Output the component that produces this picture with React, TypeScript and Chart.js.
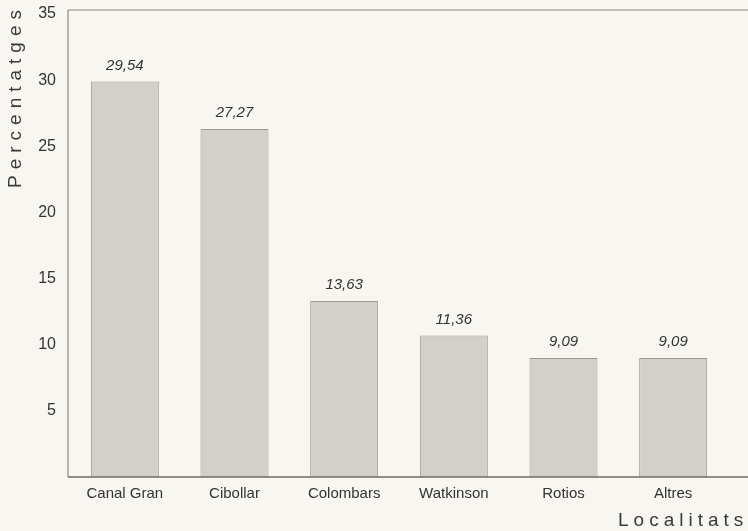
import React, { useEffect, useRef } from "react";
import { Chart, registerables } from "chart.js";

Chart.register(...registerables);

const categories = ["Canal Gran", "Cibollar", "Colombars", "Watkinson", "Rotios", "Altres"];
// bar heights as drawn in the picture
const barValues = [29.9, 26.3, 13.3, 10.7, 9.0, 9.0];
// value labels as printed above the bars
const valueLabels = ["29,54", "27,27", "13,63", "11,36", "9,09", "9,09"];
const yTicks = [5, 10, 15, 20, 25, 30, 35];
const yTitle = "Percentatges";
const xTitle = "Localitats";

const FONT = "'Liberation Sans', Arial, sans-serif";

const framePlugin = {
  id: "frame",
  beforeDraw(chart: any) {
    const { ctx, width, height } = chart;
    ctx.save();
    ctx.fillStyle = "#f8f6f0";
    ctx.fillRect(0, 0, width, height);
    ctx.restore();
  },
  afterDraw(chart: any) {
    const { ctx, chartArea, width } = chart;
    const { left, top, bottom } = chartArea;
    const meta = chart.getDatasetMeta(0);
    ctx.save();
    ctx.strokeStyle = "#8a8884";
    ctx.lineWidth = 1.2;
    ctx.beginPath();
    ctx.moveTo(left - 2, top);
    ctx.lineTo(width, top);
    ctx.moveTo(left - 2, top);
    ctx.lineTo(left - 2, bottom);
    ctx.stroke();
    ctx.strokeStyle = "#6d6b67";
    ctx.lineWidth = 1.6;
    ctx.beginPath();
    ctx.moveTo(left - 2, bottom);
    ctx.lineTo(width, bottom);
    ctx.stroke();

    ctx.fillStyle = "#333";
    ctx.font = `italic 15px ${FONT}`;
    ctx.textAlign = "center";
    ctx.textBaseline = "middle";
    meta.data.forEach((bar: any, i: number) => {
      ctx.fillText(valueLabels[i], bar.x, bar.y - 16);
    });

    ctx.font = `19px ${FONT}`;
    ctx.fillStyle = "#3a3a3a";
    ctx.textAlign = "left";
    ctx.textBaseline = "middle";
    (ctx as any).letterSpacing = "5px";
    ctx.fillText(xTitle, 618, 521);

    ctx.save();
    (ctx as any).letterSpacing = "6px";
    ctx.translate(16, 188);
    ctx.rotate(-Math.PI / 2);
    ctx.fillText(yTitle, 0, 0);
    ctx.restore();
    ctx.restore();
  },
};

export default function App() {
  const ref = useRef<HTMLCanvasElement | null>(null);
  useEffect(() => {
    if (!ref.current) return;
    const chart = new Chart(ref.current, {
      type: "bar",
      data: {
        labels: categories,
        datasets: [
          {
            data: barValues,
            backgroundColor: "#d3d0ca",
            borderColor: "#9c9994",
            borderWidth: 1,
            barPercentage: 0.62,
            categoryPercentage: 1,
          },
        ],
      },
      options: {
        animation: false,
        responsive: false,
        maintainAspectRatio: false,
        layout: { padding: { top: 10, right: 20, left: 0, bottom: 0 } },
        plugins: { legend: { display: false }, tooltip: { enabled: false } },
        scales: {
          x: {
            grid: { display: false },
            border: { display: false },
            ticks: { color: "#333", font: { family: FONT, size: 15 }, padding: 0 },
            afterFit: (s: any) => {
              s.height = 54;
              s.paddingLeft = 0;
              s.paddingRight = 0;
            },
          },
          y: {
            min: 0,
            max: 35.3,
            grid: { display: false },
            border: { display: false },
            afterBuildTicks: (s: any) => {
              s.ticks = yTicks.map((v) => ({ value: v }));
            },
            ticks: { color: "#333", font: { family: FONT, size: 16 }, padding: 6 },
            afterFit: (s: any) => {
              s.width = 70;
              s.paddingTop = 0;
              s.paddingBottom = 0;
            },
          },
        },
      },
      plugins: [framePlugin],
    });
    return () => chart.destroy();
  }, []);
  return (
    <div style={{ position: "fixed", left: 0, top: 0, width: 748, height: 531 }}>
      <canvas ref={ref} width={748} height={531} style={{ width: 748, height: 531 }} />
    </div>
  );
}
